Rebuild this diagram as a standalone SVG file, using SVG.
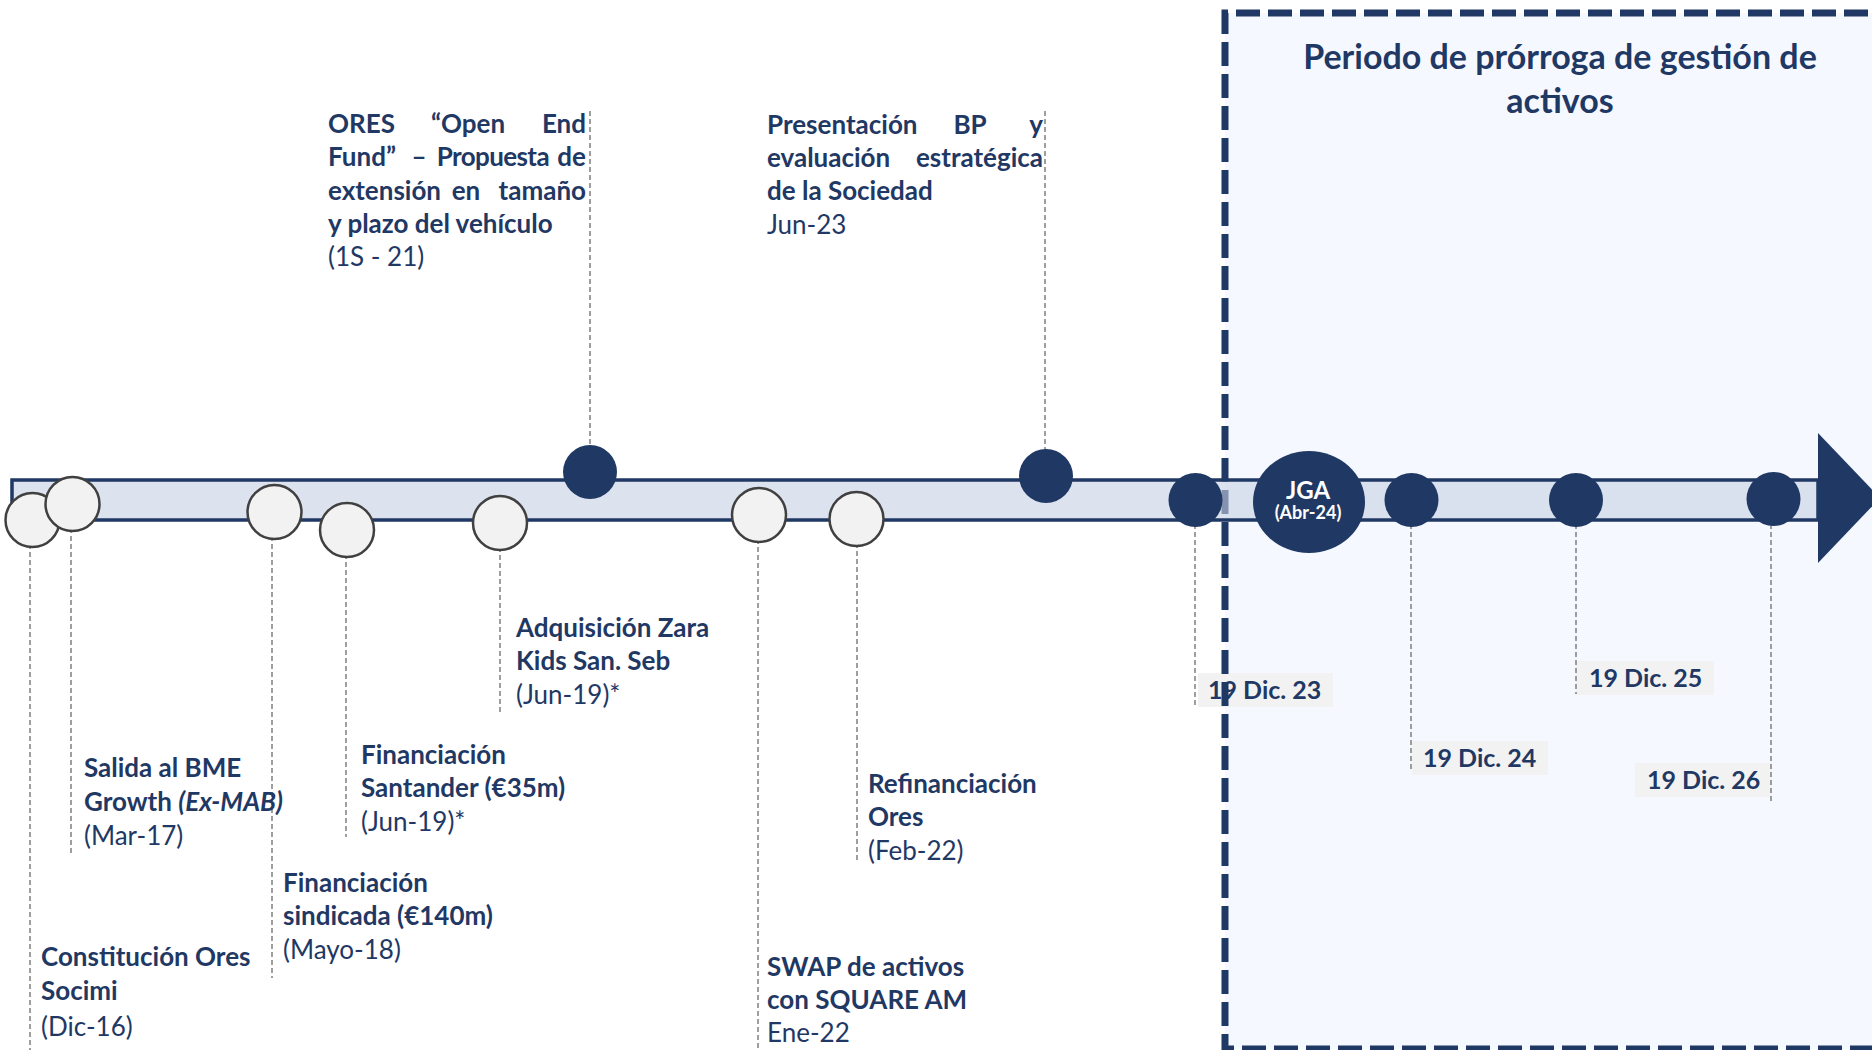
<svg xmlns="http://www.w3.org/2000/svg" width="1872" height="1050" viewBox="0 0 1872 1050">
<style>
.t{font-family:Lato,"Open Sans","Liberation Sans",sans-serif;font-weight:700;fill:#1f3864;font-size:26px}
.r{font-weight:400}
.d{font-size:25px}
.ttl{font-size:34px;text-anchor:middle}
.m{text-anchor:middle}
.e{text-anchor:end}
.w{fill:#ffffff;text-anchor:middle}
.conn{stroke:#7f7f7f;stroke-width:1.5;stroke-dasharray:5 3;fill:none}
.wc{fill:#f2f2f2;stroke:#404040;stroke-width:2.5}
.dc{fill:#203864}
.lbl{fill:#f2f2f2}
</style>
<rect width="1872" height="1050" fill="#ffffff"/>
<g id="region">
<rect x="1225" y="13" width="700" height="1036" fill="#f5f8fe"/>
</g>
<g id="date-boxes">
<rect class="lbl" x="1198" y="673" width="135" height="34"/>
<rect class="lbl" x="1412" y="741" width="136" height="34"/>
<rect class="lbl" x="1576" y="661" width="138" height="34"/>
<rect class="lbl" x="1635" y="763" width="136" height="34"/>
</g>
<g id="region-border">
<path d="M1900 13 H1225 V1049 H1900" fill="none" stroke="#203864" stroke-width="7" stroke-dasharray="24 8"/>
</g>
<g id="timeline">
<rect x="12" y="480" width="1806" height="40" fill="#c6d0e3" fill-opacity="0.6" stroke="#203864" stroke-width="3.5"/>
<polygon points="1818,433 1880,498 1818,563" fill="#203864"/>
</g>
<g id="connectors">
<line class="conn" x1="30" y1="520" x2="30" y2="1050"/>
<line class="conn" x1="71" y1="504" x2="71" y2="854"/>
<line class="conn" x1="272" y1="512" x2="272" y2="978"/>
<line class="conn" x1="346" y1="530" x2="346" y2="837"/>
<line class="conn" x1="500" y1="523" x2="500" y2="712"/>
<line class="conn" x1="758" y1="515" x2="758" y2="1050"/>
<line class="conn" x1="857" y1="519" x2="857" y2="860"/>
<line class="conn" x1="590" y1="111" x2="590" y2="472"/>
<line class="conn" x1="1045" y1="111" x2="1045" y2="476"/>
<line class="conn" x1="1195" y1="500" x2="1195" y2="707"/>
<line class="conn" x1="1411" y1="500" x2="1411" y2="772"/>
<line class="conn" x1="1576" y1="500" x2="1576" y2="694"/>
<line class="conn" x1="1771" y1="500" x2="1771" y2="802"/>
</g>
<g id="n-constitucion">
<circle class="wc" cx="32.5" cy="520" r="27"/>
<text class="t" x="41" y="966">Constitución Ores</text>
<text class="t" x="41" y="1000">Socimi</text>
<text class="t r" x="41" y="1036">(Dic-16)</text>
</g>
<g id="n-salida">
<circle class="wc" cx="72.5" cy="504" r="27"/>
<text class="t" x="84" y="777">Salida al BME</text>
<text class="t" x="84" y="811">Growth <tspan font-style="italic">(Ex-MAB)</tspan></text>
<text class="t r" x="84" y="845">(Mar-17)</text>
</g>
<g id="n-sindicada">
<circle class="wc" cx="274.5" cy="512" r="27"/>
<text class="t" x="283" y="892">Financiación</text>
<text class="t" x="283" y="925">sindicada (€140m)</text>
<text class="t r" x="283" y="959">(Mayo-18)</text>
</g>
<g id="n-santander">
<circle class="wc" cx="347" cy="530" r="27"/>
<text class="t" x="361" y="764">Financiación</text>
<text class="t" x="361" y="797">Santander (€35m)</text>
<text class="t r" x="361" y="831">(Jun-19)*</text>
</g>
<g id="n-zara">
<circle class="wc" cx="500" cy="523" r="27"/>
<text class="t" x="516" y="637">Adquisición Zara</text>
<text class="t" x="516" y="670">Kids San. Seb</text>
<text class="t r" x="516" y="704">(Jun-19)*</text>
</g>
<g id="n-ores">
<circle class="dc" cx="590" cy="472" r="27"/>
<text class="t" x="328" y="133">ORES</text>
<text class="t m" x="468" y="133">“Open</text>
<text class="t e" x="586" y="133">End</text>
<text class="t" x="328" y="166">Fund”</text>
<text class="t m" x="419" y="166">–</text>
<text class="t e" x="549" y="166" letter-spacing="-0.6">Propuesta</text>
<text class="t e" x="586" y="166">de</text>
<text class="t" x="328" y="200">extensión</text>
<text class="t m" x="466" y="200">en</text>
<text class="t e" x="586" y="200">tamaño</text>
<text class="t" x="328" y="233">y plazo del vehículo</text>
<text class="t r" x="328" y="266">(1S - 21)</text>
</g>
<g id="n-swap">
<circle class="wc" cx="759" cy="515" r="27"/>
<text class="t" x="767" y="976">SWAP de activos</text>
<text class="t" x="767" y="1009">con SQUARE AM</text>
<text class="t r" x="767" y="1042">Ene-22</text>
</g>
<g id="n-refinanciacion">
<circle class="wc" cx="856.5" cy="519" r="27"/>
<text class="t" x="868" y="793">Refinanciación</text>
<text class="t" x="868" y="826">Ores</text>
<text class="t r" x="868" y="860">(Feb-22)</text>
</g>
<g id="n-presentacion">
<circle class="dc" cx="1046" cy="476" r="27"/>
<text class="t" x="767" y="134">Presentación</text>
<text class="t m" x="970" y="134">BP</text>
<text class="t e" x="1043" y="134">y</text>
<text class="t" x="767" y="167">evaluación</text>
<text class="t e" x="1043" y="167">estratégica</text>
<text class="t" x="767" y="200">de la Sociedad</text>
<text class="t r" x="767" y="234">Jun-23</text>
</g>
<g id="n-dic23">
<circle class="dc" cx="1195.5" cy="500" r="27"/>
<text class="t d" x="1208" y="699">19 Dic. 23</text>
</g>
<g id="n-jga">
<ellipse class="dc" cx="1309" cy="502" rx="56" ry="51"/>
<text class="t w" x="1308" y="499" style="font-size:24px">JGA</text>
<text class="t w" x="1308" y="519" style="font-size:18px">(Abr-24)</text>
</g>
<g id="n-dic24">
<circle class="dc" cx="1411.5" cy="500" r="27"/>
<text class="t d" x="1423" y="767">19 Dic. 24</text>
</g>
<g id="n-dic25">
<circle class="dc" cx="1576" cy="500" r="27"/>
<text class="t d" x="1589" y="687">19 Dic. 25</text>
</g>
<g id="n-dic26">
<circle class="dc" cx="1773.5" cy="499" r="27"/>
<text class="t d" x="1647" y="789">19 Dic. 26</text>
</g>
<g id="title">
<text class="t ttl" x="1560" y="69">Periodo de prórroga de gestión de</text>
<text class="t ttl" x="1560" y="113">activos</text>
</g>
</svg>
